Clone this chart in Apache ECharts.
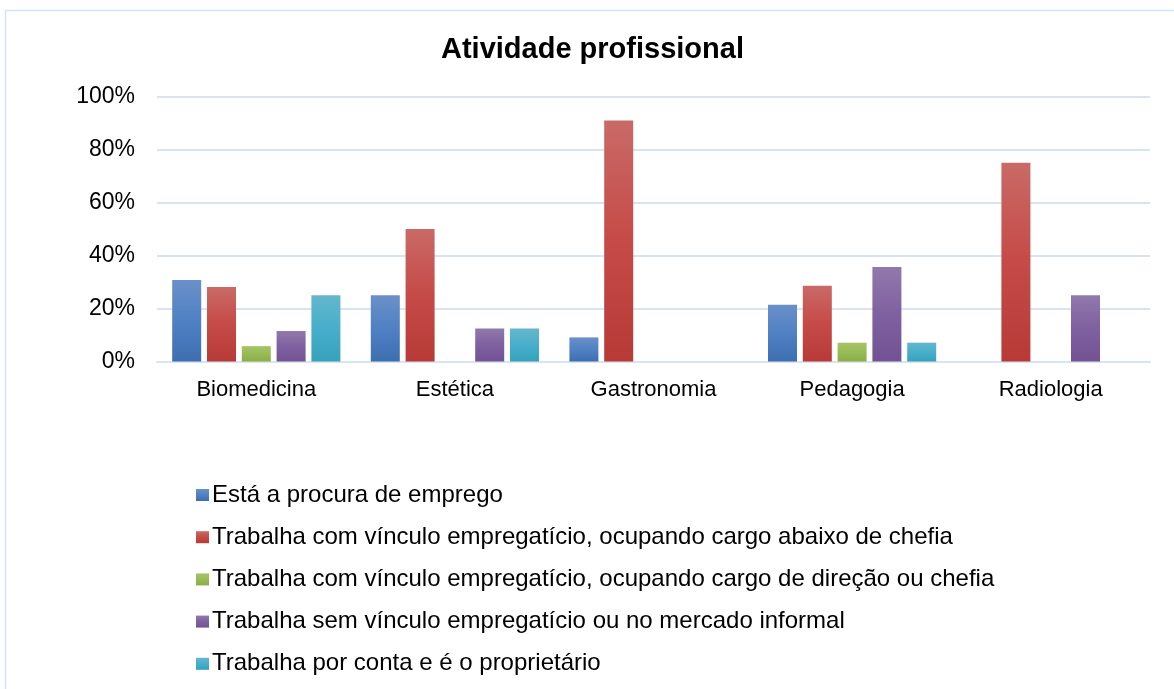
<!DOCTYPE html>
<html>
<head>
<meta charset="utf-8">
<script src="https://cdn.jsdelivr.net/npm/echarts@6/dist/echarts.min.js"></script>
<style>
    html, body { margin: 0; padding: 0; background: #fff; }
    #chart { width: 1174px; height: 689px; }
</style>
</head>
<body>
<div id="chart"></div>
<script>
    var categories = ['Biomedicina', 'Estética', 'Gastronomia', 'Pedagogia', 'Radiologia'];
    var seriesNames = [
        'Está a procura de emprego',
        'Trabalha com vínculo empregatício, ocupando cargo abaixo de chefia',
        'Trabalha com vínculo empregatício, ocupando cargo de direção ou chefia',
        'Trabalha sem vínculo empregatício ou no mercado informal',
        'Trabalha por conta e é o proprietário'
    ];
    // percentuais
    var procura = [30.8, 25.0, 9.1, 21.4, 0];
    var abaixoChefia = [28.1, 50.0, 90.9, 28.6, 75.0];
    var direcao = [5.8, 0, 0, 7.1, 0];
    var semVinculo = [11.5, 12.5, 0, 35.7, 25.0];
    var proprietario = [25.0, 12.5, 0, 7.1, 0];
    var yTicks = ['0%', '20%', '40%', '60%', '80%', '100%'];

    var values = [procura, abaixoChefia, direcao, semVinculo, proprietario];
    // cores com degradê (topo, meio, base)
    var colors = [
        ['#6b90c8', '#4f81c4', '#3d6eb0'],
        ['#c96a67', '#c64a47', '#b73a37'],
        ['#a7c46a', '#98bb55', '#8aad46'],
        ['#9179ac', '#7f60a0', '#725292'],
        ['#65b6cc', '#47afcb', '#37a1bc']
    ];

    var chart = echarts.init(document.getElementById('chart'));

    var series = seriesNames.map(function (name, i) {
        return {
            name: name,
            type: 'bar',
            barWidth: 29,
            barGap: '20%',
            itemStyle: {
                color: new echarts.graphic.LinearGradient(0, 0, 0, 1, [
                    { offset: 0, color: colors[i][0] },
                    { offset: 0.5, color: colors[i][1] },
                    { offset: 1, color: colors[i][2] }
                ])
            },
            emphasis: { disabled: true },
            data: values[i]
        };
    });

    chart.setOption({
        animation: false,
        color: colors.map(function (c) { return c[1]; }),
        graphic: [{
            type: 'rect',
            shape: { x: 5.5, y: 10.5, width: 1200, height: 700 },
            style: { fill: 'none', stroke: '#d6e2f3', lineWidth: 1.5 },
            silent: true,
            z: -1
        }],
        title: {
            text: 'Atividade profissional',
            left: 436,
            top: 30,
            textStyle: { fontFamily: 'Liberation Sans', fontSize: 29, fontWeight: 'bold', color: '#000' }
        },
        grid: { left: 157, right: 24, top: 96.5, bottom: 327.5 },
        legend: {
            orient: 'vertical',
            left: 191,
            top: 478,
            itemWidth: 13,
            itemHeight: 12,
            itemGap: 18.2,
            icon: 'rect',
            data: seriesNames,
            textStyle: { fontFamily: 'Liberation Sans', fontSize: 24, lineHeight: 24, color: '#000', padding: [0, 0, 0, -2] }
        },
        xAxis: {
            type: 'category',
            data: categories,
            axisLine: { lineStyle: { color: '#d9e3f1', width: 2 } },
            axisTick: { show: false },
            axisLabel: { fontFamily: 'Liberation Sans', fontSize: 22, color: '#000', margin: 17 }
        },
        yAxis: {
            type: 'value',
            min: 0,
            max: 100,
            interval: 20,
            axisLine: { show: false },
            axisTick: { show: false },
            splitLine: { lineStyle: { color: '#d9e3f1', width: 2 } },
            axisLabel: {
                fontFamily: 'Liberation Sans', fontSize: 23, color: '#000', margin: 22,
                formatter: function (v) { return yTicks[Math.round(v / 20)]; }
            }
        },
        series: series
    });
</script>
</body>
</html>
